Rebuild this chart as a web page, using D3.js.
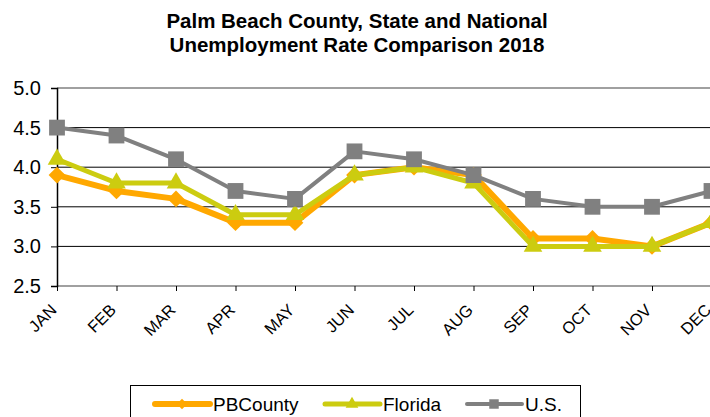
<!DOCTYPE html>
<html>
<head>
<meta charset="utf-8">
<script src="https://cdn.jsdelivr.net/npm/d3@7"></script>
<style>
  body { margin: 0; background: #fff; }
  svg { font-family: "Liberation Sans", Arial, sans-serif; }
</style>
</head>
<body>
<svg id="chart" width="710" height="417"></svg>
<script>
// Chart data.
var months = ["JAN","FEB","MAR","APR","MAY","JUN","JUL","AUG","SEP","OCT","NOV","DEC"];
var pbCounty = [3.9, 3.7, 3.6, 3.3, 3.3, 3.9, 4.0, 3.9, 3.1, 3.1, 3.0, 3.3];
var florida  = [4.1, 3.8, 3.8, 3.4, 3.4, 3.9, 4.0, 3.8, 3.0, 3.0, 3.0, 3.3];
var usRate   = [4.5, 4.4, 4.1, 3.7, 3.6, 4.2, 4.1, 3.9, 3.6, 3.5, 3.5, 3.7];
var yTicks   = [2.5, 3.0, 3.5, 4.0, 4.5, 5.0];

var series = [
  {name: "PBCounty", values: pbCounty, color: "#FFA800", width: 6, marker: "diamond"},
  {name: "Florida",  values: florida,  color: "#CCCC10", width: 5, marker: "triangle"},
  {name: "U.S.",     values: usRate,   color: "#808080", width: 4, marker: "square"}
];

var svg = d3.select("#chart");
var plotLeft = 57, plotTop = 88, plotBottom = 286;

// Scales.
var x = d3.scalePoint().domain(months).range([plotLeft, plotLeft + 59.5 * 11]);
var y = d3.scaleLinear().domain([2.5, 5.0]).range([plotBottom, plotTop]);

// Title.
var title = svg.append("text")
  .attr("text-anchor", "middle")
  .style("font-weight", "bold").style("font-size", "20.5px");
title.append("tspan").attr("x", 357).attr("y", 28).text("Palm Beach County, State and National");
title.append("tspan").attr("x", 357).attr("y", 52).text("Unemployment Rate Comparison 2018");

// Gridlines.
svg.selectAll(".grid").data(yTicks).enter().append("line")
  .attr("x1", plotLeft).attr("x2", 710)
  .attr("y1", function(d) { return y(d); })
  .attr("y2", function(d) { return y(d); })
  .attr("stroke", function(d) { return (d === 5.0 || d === 2.5) ? "#a0a0a0" : "#000"; })
  .attr("stroke-width", function(d) { return (d === 5.0 || d === 2.5) ? 2 : 1; });

// Y axis.
var yAxis = svg.append("g")
  .attr("transform", "translate(" + plotLeft + ",0)")
  .call(d3.axisLeft(y).tickValues(yTicks).tickFormat(d3.format(".1f")).tickSize(6).tickPadding(10));
yAxis.select(".domain").attr("stroke", "#000").attr("stroke-width", 1.5);
yAxis.selectAll("text").style("font-size", "20px").attr("fill", "#000")
  .style("font-family", "'Liberation Sans', Arial, sans-serif");

// X axis.
var xAxis = svg.append("g")
  .attr("transform", "translate(0," + plotBottom + ")")
  .call(d3.axisBottom(x).tickSize(5).tickPadding(6));
xAxis.select(".domain").remove();
xAxis.selectAll("text")
  .style("font-size", "16.5px").attr("fill", "#000")
  .style("font-family", "'Liberation Sans', Arial, sans-serif")
  .attr("text-anchor", "end")
  .attr("y", 0)
  .attr("dy", "0.35em")
  .attr("transform", "translate(-4,21) rotate(-45)");

// Marker shapes.
var symbolFor = {
  diamond: d3.symbol().type(d3.symbolDiamond2).size(180),
  triangle: d3.symbol().type(d3.symbolTriangle).size(150),
  square: d3.symbol().type(d3.symbolSquare).size(250)
};

var line = d3.line()
  .x(function(d, i) { return x(months[i]); })
  .y(function(d) { return y(d); });

series.forEach(function(s) {
  svg.append("path")
    .datum(s.values)
    .attr("d", line)
    .attr("fill", "none")
    .attr("stroke", s.color)
    .attr("stroke-width", s.width)
    .attr("stroke-linejoin", "round");

  svg.selectAll(".m-" + s.marker).data(s.values).enter().append("path")
    .attr("class", "m-" + s.marker)
    .attr("d", symbolFor[s.marker])
    .attr("transform", function(d, i) { return "translate(" + x(months[i]) + "," + y(d) + ")"; })
    .attr("fill", s.color);
});

// Legend.
svg.append("rect")
  .attr("x", 130.5).attr("y", 385.5).attr("width", 450).attr("height", 40)
  .attr("fill", "#fff").attr("stroke", "#000").attr("stroke-width", 1);

var legendX = [155, 325, 467];
var legendMarker = {
  diamond: d3.symbol().type(d3.symbolDiamond2).size(70),
  triangle: d3.symbol().type(d3.symbolTriangle).size(70),
  square: d3.symbol().type(d3.symbolSquare).size(90)
};
series.forEach(function(s, i) {
  var g = svg.append("g").attr("transform", "translate(" + legendX[i] + ",404)");
  g.append("line").attr("x1", 0).attr("x2", 55).attr("y1", 0).attr("y2", 0)
    .attr("stroke", s.color).attr("stroke-width", s.width).attr("stroke-linecap", "round");
  g.append("path").attr("d", legendMarker[s.marker]).attr("transform", "translate(27,0)")
    .attr("fill", s.color);
  g.append("text").attr("x", 58).attr("y", 7).style("font-size", "19px").text(s.name);
});
</script>
</body>
</html>
